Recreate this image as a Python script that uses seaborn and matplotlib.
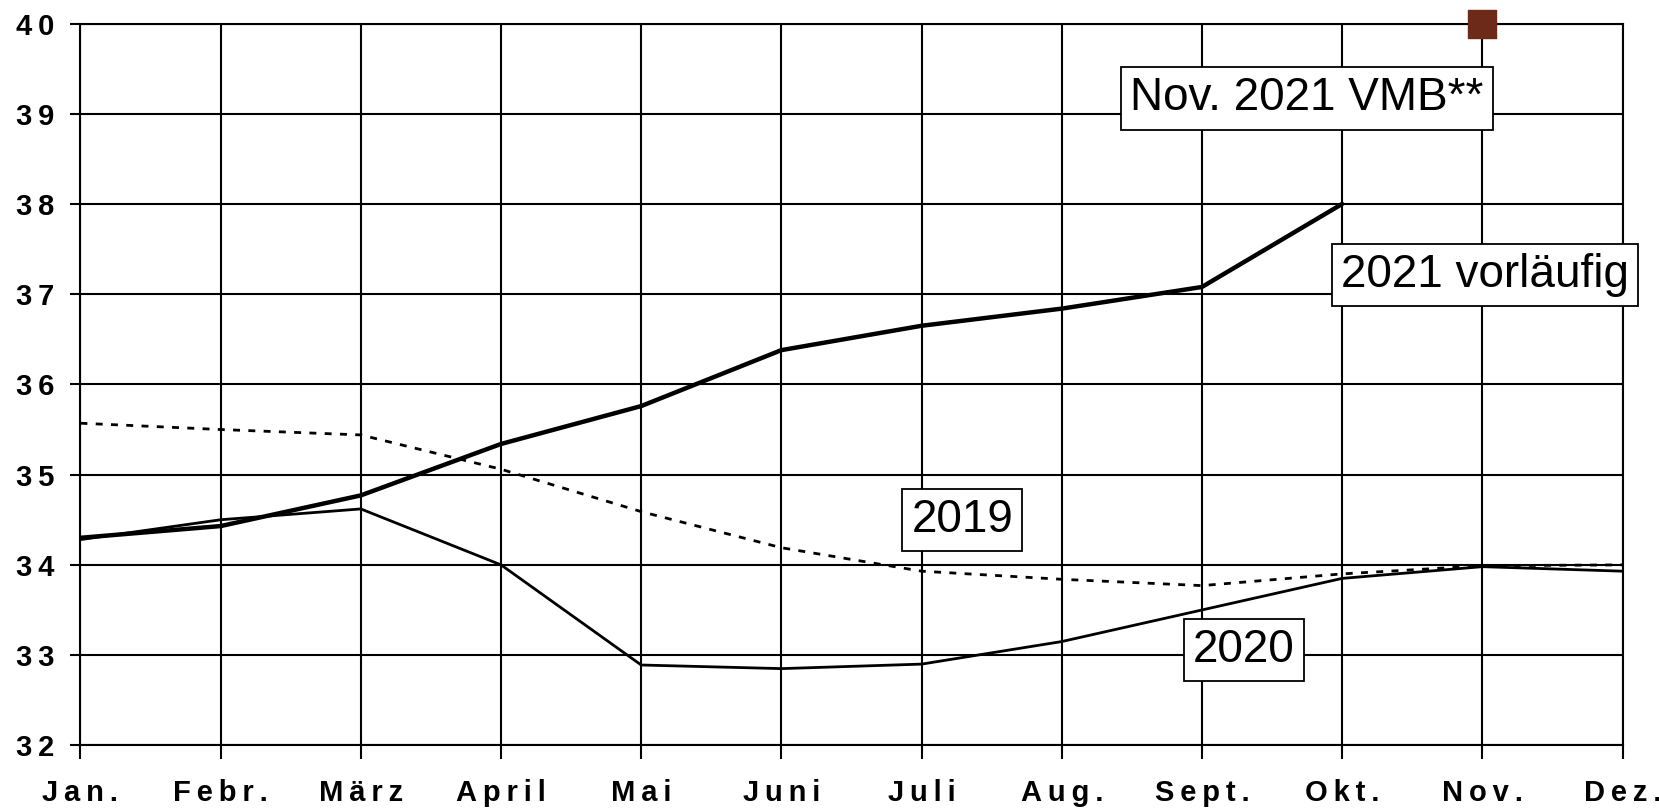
import numpy as np
import pandas as pd
import seaborn as sns
import matplotlib.pyplot as plt

# data
months = ["Jan.", "Febr.", "März", "April", "Mai", "Juni", "Juli", "Aug.", "Sept.", "Okt.", "Nov.", "Dez."]
v2019 = [35.57, 35.50, 35.44, 35.06, 34.59, 34.19, 33.93, 33.84, 33.77, 33.90, 33.99, 34.00]
v2020 = [34.28, 34.50, 34.62, 34.00, 32.89, 32.85, 32.90, 33.15, 33.50, 33.85, 33.98, 33.93]
v2021 = [34.30, 34.43, 34.77, 35.34, 35.76, 36.38, 36.65, 36.84, 37.08, 38.00]
vmb_month = 10
vmb_value = 40.0

sns.set_style("white")
plt.rcParams['font.family'] = ['Liberation Sans', 'DejaVu Sans']
plt.rcParams['text.color'] = 'black'

x = np.arange(len(months))
df19 = pd.DataFrame({"x": x, "y": v2019})
df20 = pd.DataFrame({"x": x, "y": v2020})
df21 = pd.DataFrame({"x": x[:len(v2021)], "y": v2021})

fig, ax = plt.subplots(figsize=(16.59, 8.11), dpi=100)
fig.subplots_adjust(left=0.0485, right=0.978, top=0.971, bottom=0.081)

sns.lineplot(data=df19, x="x", y="y", ax=ax, color="black", lw=2, linestyle=(0, (2.5, 3)))
sns.lineplot(data=df20, x="x", y="y", ax=ax, color="black", lw=2)
sns.lineplot(data=df21, x="x", y="y", ax=ax, color="black", lw=3.2)
ax.scatter([vmb_month], [vmb_value], marker="s", s=380, color="#6e2a18", zorder=5, clip_on=False)

# spaced-out tick labels like the original
def spaced(s):
    return "\u2009".join(s)

ax.set_xlim(0, 11)
ax.set_ylim(32, 40)
ax.set_xticks(x)
ax.set_xticklabels([spaced(m) for m in months])
ax.set_yticks(range(32, 41))
ax.set_yticklabels([spaced(str(v)) for v in range(32, 41)])
ax.grid(True, color="black", lw=1.5)
ax.set_axisbelow(True)
for s in ax.spines.values():
    s.set_color("black")
    s.set_linewidth(1.5)
ax.tick_params(axis="x", bottom=True, direction="out", length=10, width=1.5, color="black",
               pad=14, labelsize=21, labelcolor="black")
ax.tick_params(axis="y", left=True, direction="out", length=7, width=1.5, color="black",
               pad=12, labelsize=21, labelcolor="black")
for lab in ax.get_xticklabels() + ax.get_yticklabels():
    lab.set_fontweight("bold")
ax.set_xlabel("")
ax.set_ylabel("")

box = dict(boxstyle="square,pad=0.2", fc="white", ec="black", lw=1.3)
ax.text(8.75, 39.17, "Nov. 2021 VMB**", fontsize=33, ha="center", va="center", bbox=box, zorder=6)
ax.text(10.02, 37.21, "2021 vorläufig", fontsize=33, ha="center", va="center", bbox=box, zorder=6, clip_on=False)
ax.text(6.29, 34.50, "2019", fontsize=33, ha="center", va="center", bbox=box, zorder=6)
ax.text(8.30, 33.06, "2020", fontsize=33, ha="center", va="center", bbox=box, zorder=6)

fig.savefig("out.png", dpi=100, facecolor="white")
